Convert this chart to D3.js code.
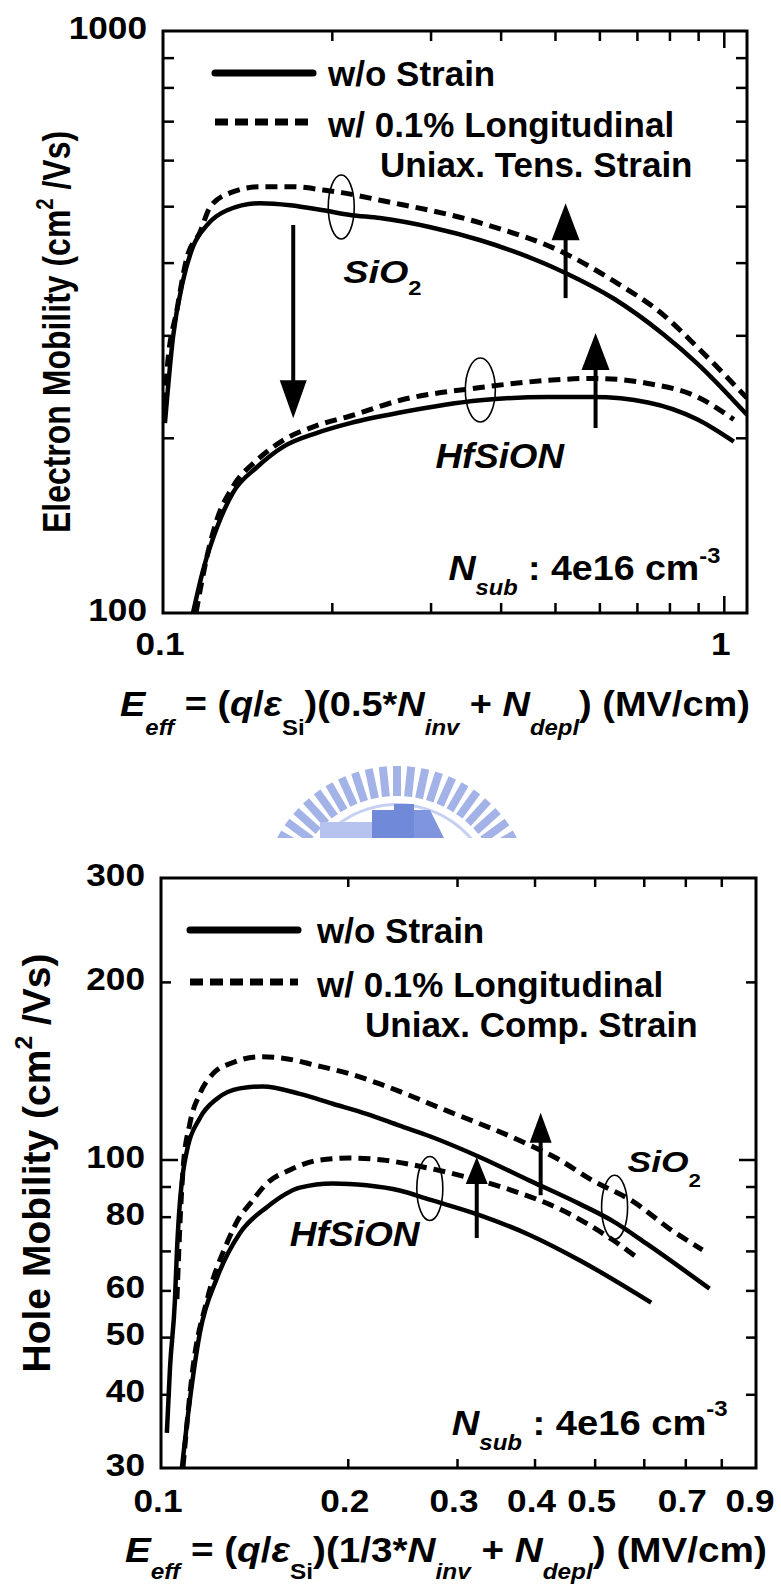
<!DOCTYPE html>
<html>
<head>
<meta charset="utf-8">
<script src="https://cdn.jsdelivr.net/npm/d3@7"></script>
<style>
  body { margin: 0; background: #fff; }
  svg { display: block; font-family: "Liberation Sans", Arial, sans-serif; font-weight: bold; }
  svg text { white-space: pre; }
</style>
</head>
<body>
<div id="chart-container"></div>
<script>
// ---- electron mobility panel (E in MV/cm, mobility in cm2/Vs) ----
const elecXTicks = [0.2, 0.3, 0.4, 0.5, 0.6, 0.7, 0.8, 0.9, 1];
const elecYTicks = [200, 300, 400, 500, 600, 700, 800, 900];
const elecXLabels = [0.1, 1];
const elecYLabels = [100, 1000];
const elecLegend = ["w/o Strain", "w/ 0.1% Longitudinal", "Uniax. Tens. Strain"];

const elecSiO2WoStrain = [[0.1008, 212], [0.1042, 298], [0.1086, 373], [0.1131, 426], [0.1198, 464], [0.1301, 492],
  [0.149, 506], [0.1686, 502], [0.1931, 492], [0.2157, 483], [0.2438, 477], [0.30, 460], [0.368, 437], [0.434, 414],
  [0.522, 384], [0.636, 347], [0.781, 301], [0.898, 268], [1.1, 219]];
const elecSiO2Strain = [[0.1008, 228], [0.1017, 262], [0.1059, 332], [0.1104, 409], [0.1164, 451], [0.1213, 498],
  [0.1317, 527], [0.149, 540], [0.1706, 540], [0.1931, 533], [0.2096, 527], [0.2438, 512], [0.368, 468], [0.518, 416],
  [0.636, 372], [0.781, 325], [0.898, 286], [1.1, 234]];
const elecHfWoStrain = [[0.1131, 100], [0.1179, 118.5], [0.1249, 140.5], [0.1333, 161], [0.147, 178], [0.1637, 193],
  [0.1883, 204], [0.2157, 212], [0.2648, 221], [0.368, 232], [0.485, 235], [0.585, 235], [0.7325, 230], [0.898, 215],
  [1.042, 197]];
const elecHfStrain = [[0.1145, 100], [0.12, 126], [0.1249, 145], [0.1333, 165], [0.147, 183], [0.1637, 198],
  [0.1883, 210], [0.2157, 218], [0.2648, 232], [0.368, 244], [0.485, 251], [0.585, 253], [0.7325, 248], [0.898, 235],
  [1.042, 215]];

// ---- hole mobility panel ----
const holeXTicks = [0.2, 0.3, 0.4, 0.5, 0.6, 0.7, 0.8];
const holeYTicks = [40, 50, 60, 70, 80, 90, 100, 200];
const holeXLabels = [0.1, 0.2, 0.3, 0.4, 0.5, 0.7, 0.9];
const holeYLabels = [30, 40, 50, 60, 80, 100, 200, 300];
const holeLegend = ["w/o Strain", "w/ 0.1% Longitudinal", "Uniax. Comp. Strain"];

const holeSiO2WoStrain = [[0.1022, 34.4], [0.1034, 44.4], [0.1053, 57.7], [0.1061, 70], [0.1073, 85], [0.1085, 95],
  [0.1101, 103.5], [0.1155, 117.5], [0.1231, 126.8], [0.134, 132], [0.1459, 133], [0.1674, 129.2], [0.1892, 124.3],
  [0.2144, 119.5], [0.2425, 114.1], [0.2712, 109.5], [0.3261, 101], [0.3928, 92.1], [0.4727, 84.1], [0.5342, 78.7],
  [0.6062, 72], [0.7659, 60.4]];
const holeSiO2Strain = [[0.1061, 58], [0.1073, 78], [0.1085, 96], [0.1113, 115], [0.1155, 129.2], [0.1212, 139.7],
  [0.1306, 146], [0.1443, 149.3], [0.1572, 148.5], [0.1781, 144.3], [0.2014, 139.7], [0.2253, 134.3], [0.2887, 121],
  [0.3785, 107.7], [0.4391, 99.8], [0.4963, 92.1], [0.5754, 85], [0.6675, 75.7], [0.746, 70.3]];
const holeHfWoStrain = [[0.1081, 30.1], [0.1113, 39.1], [0.1155, 50.8], [0.1231, 63], [0.134, 75], [0.1481, 83],
  [0.1674, 89.6], [0.1892, 91.1], [0.2144, 90.4], [0.2425, 88.6], [0.2711, 85.5], [0.3261, 80.5], [0.3928, 74.5],
  [0.4727, 67.5], [0.6167, 57.2]];
const holeHfStrain = [[0.1085, 30.1], [0.1126, 44.4], [0.1186, 57.7], [0.1277, 72.1], [0.134, 80], [0.1391, 84.1],
  [0.1481, 91.1], [0.1613, 96], [0.1803, 99.8], [0.2014, 100.6], [0.2277, 99.8], [0.2711, 96.6], [0.3261, 92.1],
  [0.3685, 88.6], [0.4436, 82], [0.5342, 73.1], [0.5834, 68.4]];

const panels = [
  {
    box: { left: 163, right: 747, top: 31, bottom: 613 },
    xDomain: [0.1, 1.1], yDomain: [100, 1000],
    xTicks: elecXTicks, yTicks: elecYTicks, xMajor: [1], yMajor: [],
    xLen: 10, xMajorLen: 17, yLen: 11, yMajorLen: 16,
    xLabels: elecXLabels, yLabels: elecYLabels, xLabelY: 655,
    series: [
      { data: elecSiO2WoStrain, dashed: false }, { data: elecSiO2Strain, dashed: true },
      { data: elecHfWoStrain, dashed: false }, { data: elecHfStrain, dashed: true }
    ],
    legend: { names: elecLegend, x1: 215, x2: 313, ys: [73, 122], textX: 328, base: [86, 137, 177], thirdX: 380 },
    yTitle: { parts: ["Electron Mobility (cm", { t: "2", sup: 1 }, " /Vs)"], x: 70, y: 332, size: 32, sx: 1.2 },
    xTitle: {
      parts: [{ t: "E", i: 1 }, { t: "eff", i: 1, sub: 1 }, " = (", { t: "q", i: 1 }, "/", { t: "ε", i: 1 }, { t: "Si", sub: 1 },
        ")(0.5*", { t: "N", i: 1 }, { t: "inv", i: 1, sub: 1 }, " + ", { t: "N", i: 1 }, { t: "depl", i: 1, sub: 1 }, ") (MV/cm)"],
      x: 120, y: 716, width: 630, subDy: 0.55
    },
    ellipses: [{ at: [0.2079, 498.5], rx: 13, ry: 32 }, { at: [0.368, 241.6], rx: 15, ry: 32 }],
    arrows: [
      { x: 0.1707, from: 464, to: 216, head: 38, half: 13.5 },
      { x: 0.5223, from: 347.6, to: 506, head: 37, half: 14 },
      { x: 0.5907, from: 207.9, to: 302.8, head: 37, half: 14 }
    ],
    notes: [
      { at: [0.2096, 369], parts: [{ t: "SiO", i: 1 }, { t: "2", sub: 1 }], size: 32, sx: 1.18, subDy: 0.38 },
      { at: [0.306, 177.5], parts: [{ t: "HfSiON", i: 1 }], size: 35, sx: 1.05 },
      { at: [0.3228, 113.9], parts: [{ t: "N", i: 1 }, { t: "sub", i: 1, sub: 1 }, " : 4e16 cm", { t: "-3", sup: 1 }],
        size: 35, width: 272, subDy: 0.43, supDy: 0.49 }
    ]
  },
  {
    box: { left: 161, right: 756, top: 878, bottom: 1468 },
    xDomain: [0.1, 0.91], yDomain: [30, 300],
    xTicks: holeXTicks, yTicks: holeYTicks, xMajor: [], yMajor: [100],
    xLen: 9, xMajorLen: 9, yLen: 10, yMajorLen: 17,
    xLabels: holeXLabels, yLabels: holeYLabels, xLabelY: 1512,
    series: [
      { data: holeSiO2WoStrain, dashed: false }, { data: holeSiO2Strain, dashed: true },
      { data: holeHfWoStrain, dashed: false }, { data: holeHfStrain, dashed: true }
    ],
    legend: { names: holeLegend, x1: 190, x2: 298, ys: [930, 982], textX: 317, base: [943, 997, 1037], thirdX: 365 },
    yTitle: { parts: ["Hole Mobility (cm", { t: "2", sup: 1 }, " /Vs)"], x: 50, y: 1163, size: 39, sx: 1.0 },
    xTitle: {
      parts: [{ t: "E", i: 1 }, { t: "eff", i: 1, sub: 1 }, " = (", { t: "q", i: 1 }, "/", { t: "ε", i: 1 }, { t: "Si", sub: 1 },
        ")(1/3*", { t: "N", i: 1 }, { t: "inv", i: 1, sub: 1 }, " + ", { t: "N", i: 1 }, { t: "depl", i: 1, sub: 1 }, ") (MV/cm)"],
      x: 125, y: 1562, width: 642, subDy: 0.48
    },
    ellipses: [{ at: [0.2712, 89.3], rx: 13, ry: 32 }, { at: [0.5384, 83.0], rx: 13, ry: 32 }],
    arrows: [
      { x: 0.3228, from: 73.6, to: 101.0, head: 27, half: 11 },
      { x: 0.4092, from: 87.0, to: 120.0, head: 30, half: 11 }
    ],
    notes: [
      { at: [0.5649, 95.4], parts: [{ t: "SiO", i: 1 }, { t: "2", sub: 1 }], size: 30, sx: 1.18, subDy: 0.5 },
      { at: [0.1613, 71.4], parts: [{ t: "HfSiON", i: 1 }], size: 35, sx: 1.06 },
      { at: [0.2942, 34.1], parts: [{ t: "N", i: 1 }, { t: "sub", i: 1, sub: 1 }, " : 4e16 cm", { t: "-3", sup: 1 }],
        size: 35, width: 276, subDy: 0.43, supDy: 0.55 }
    ]
  }
];

function richText(parent, x, y, parts, o) {
  const size = o.size;
  const grp = parent.append("g");
  const t = grp.append("text")
    .attr("font-size", size)
    .attr("text-anchor", o.anchor || "start");
  if (o.rotate) t.attr("transform", `rotate(${o.rotate})`);
  let shift = 0;
  parts.forEach(p => {
    if (typeof p === "string") p = { t: p };
    const target = p.sub ? size * (o.subDy || 0.55) : p.sup ? -size * (o.supDy || 0.45) : 0;
    const span = t.append("tspan").text(p.t).attr("dy", target - shift);
    shift = target;
    if (p.i) span.attr("font-style", "italic");
    if (p.sub || p.sup) span.attr("font-size", size * 0.63);
  });
  let sx = o.sx || 1;
  if (o.width) sx = o.width / t.node().getBBox().width;
  grp.attr("transform", `translate(${x},${y}) scale(${sx},1)`);
  return grp;
}

function drawLogo(svg) {
  const cx = 397, cy = 902;
  svg.append("clipPath").attr("id", "logo-clip")
    .append("rect").attr("x", 0).attr("y", 700).attr("width", 781).attr("height", 138);
  const g = svg.append("g").attr("clip-path", "url(#logo-clip)");
  d3.range(-72, 73, 6).forEach(a => {
    const r = a * Math.PI / 180;
    g.append("line")
      .attr("x1", cx + 106 * Math.sin(r)).attr("y1", cy - 106 * Math.cos(r))
      .attr("x2", cx + 136 * Math.sin(r)).attr("y2", cy - 136 * Math.cos(r))
      .attr("stroke", "#a3b3e8").attr("stroke-width", 8);
  });
  g.append("path")
    .attr("transform", `translate(${cx},${cy})`)
    .attr("d", d3.arc()({ innerRadius: 96, outerRadius: 99, startAngle: -1.2, endAngle: 1.2 }))
    .attr("fill", "#c6d0f3");
  g.append("rect").attr("x", 320).attr("y", 822).attr("width", 52).attr("height", 16).attr("fill", "#b7c3ef");
  g.append("rect").attr("x", 372).attr("y", 810).attr("width", 22).attr("height", 30).attr("fill", "#7089d9");
  g.append("rect").attr("x", 394).attr("y", 804).attr("width", 20).attr("height", 36).attr("fill", "#7089d9");
  g.append("path").attr("d", "M414,810 L430,810 L445,840 L414,840 Z").attr("fill", "#7f95dd");
}

function drawPanel(svg, p, idx) {
  const b = p.box;
  const x = d3.scaleLog().domain(p.xDomain).range([b.left, b.right]);
  const y = d3.scaleLog().domain(p.yDomain).range([b.bottom, b.top]);

  // inward ticks on all four sides
  const sides = [
    { axis: d3.axisBottom(x), tr: `translate(0,${b.bottom})`, vals: p.xTicks, attr: "y2", sign: -1, major: p.xMajor, len: p.xLen, big: p.xMajorLen },
    { axis: d3.axisTop(x), tr: `translate(0,${b.top})`, vals: p.xTicks, attr: "y2", sign: 1, major: p.xMajor, len: p.xLen, big: p.xMajorLen },
    { axis: d3.axisLeft(y), tr: `translate(${b.left},0)`, vals: p.yTicks, attr: "x2", sign: 1, major: p.yMajor, len: p.yLen, big: p.yMajorLen },
    { axis: d3.axisRight(y), tr: `translate(${b.right},0)`, vals: p.yTicks, attr: "x2", sign: -1, major: p.yMajor, len: p.yLen, big: p.yMajorLen }
  ];
  sides.forEach(s => {
    const g = svg.append("g").attr("transform", s.tr)
      .call(s.axis.tickValues(s.vals).tickSize(0).tickSizeOuter(0).tickFormat(""));
    g.select(".domain").remove();
    g.selectAll(".tick text").remove();
    g.selectAll(".tick line")
      .attr(s.attr, d => s.sign * (s.major.includes(d) ? s.big : s.len))
      .attr("stroke", "#000").attr("stroke-width", 2.5);
  });

  svg.append("rect")
    .attr("x", b.left).attr("y", b.top)
    .attr("width", b.right - b.left).attr("height", b.bottom - b.top)
    .attr("fill", "none").attr("stroke", "#000").attr("stroke-width", 3);

  // tick labels
  p.xLabels.forEach(v => {
    richText(svg, x(v) - 3, p.xLabelY, [String(v)], { size: 32, sx: 1.1, anchor: "middle" });
  });
  p.yLabels.forEach(v => {
    richText(svg, b.left - 16, y(v) + 8, [String(v)], { size: 32, sx: 1.1, anchor: "end" });
  });

  // curves
  const clipId = "plot-clip-" + idx;
  svg.append("clipPath").attr("id", clipId)
    .append("rect").attr("x", b.left).attr("y", b.top)
    .attr("width", b.right - b.left).attr("height", b.bottom - b.top);
  const line = d3.line().x(d => x(d[0])).y(d => y(d[1])).curve(d3.curveMonotoneX);
  const curves = svg.append("g").attr("clip-path", `url(#${clipId})`);
  p.series.forEach(s => {
    curves.append("path")
      .attr("d", line(s.data))
      .attr("fill", "none")
      .attr("stroke", "#000")
      .attr("stroke-width", s.dashed ? 5 : 4.5)
      .attr("stroke-dasharray", s.dashed ? "12,7" : null)
      .attr("stroke-linejoin", "round");
  });

  // annotations
  p.ellipses.forEach(e => {
    svg.append("ellipse")
      .attr("cx", x(e.at[0])).attr("cy", y(e.at[1]))
      .attr("rx", e.rx).attr("ry", e.ry)
      .attr("fill", "none").attr("stroke", "#000").attr("stroke-width", 1.6);
  });
  p.arrows.forEach(a => {
    const ax = x(a.x), y0 = y(a.from), y1 = y(a.to);
    const dir = y1 < y0 ? 1 : -1;
    svg.append("line")
      .attr("x1", ax).attr("x2", ax).attr("y1", y0).attr("y2", y1 + dir * (a.head - 2))
      .attr("stroke", "#000").attr("stroke-width", 4);
    svg.append("path")
      .attr("d", `M${ax},${y1} L${ax - a.half},${y1 + dir * a.head} L${ax + a.half},${y1 + dir * a.head} Z`)
      .attr("fill", "#000");
  });
  p.notes.forEach(n => {
    richText(svg, x(n.at[0]), y(n.at[1]), n.parts, n);
  });

  // legend
  const lg = p.legend;
  lg.ys.forEach((ly, i) => {
    svg.append("line")
      .attr("x1", lg.x1).attr("x2", lg.x2).attr("y1", ly).attr("y2", ly)
      .attr("stroke", "#000").attr("stroke-width", 7)
      .attr("stroke-dasharray", i === 1 ? "13,7" : null)
      .attr("stroke-linecap", i === 1 ? "butt" : "round");
  });
  lg.names.forEach((name, i) => {
    richText(svg, i === 2 ? lg.thirdX : lg.textX, lg.base[i], [name], { size: 35 });
  });

  // axis titles
  const yt = p.yTitle;
  richText(svg, yt.x, yt.y, yt.parts, { size: yt.size, sx: yt.sx, anchor: "middle", rotate: -90 });
  const xt = p.xTitle;
  richText(svg, xt.x, xt.y, xt.parts, { size: 35, width: xt.width, subDy: xt.subDy });
}

document.addEventListener('DOMContentLoaded', () => {
  const svg = d3.select("#chart-container")
    .append("svg")
    .attr("width", 781)
    .attr("height", 1589);

  drawLogo(svg);
  panels.forEach((p, i) => drawPanel(svg, p, i));
});
</script>
</body>
</html>
